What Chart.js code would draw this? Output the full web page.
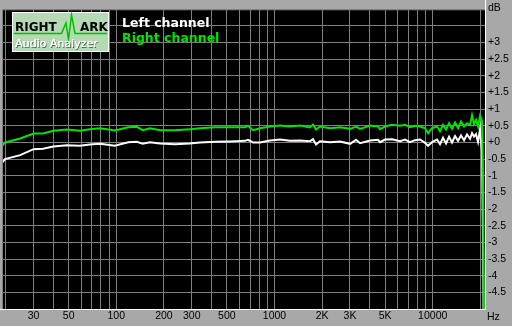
<!DOCTYPE html>
<html>
<head>
<meta charset="utf-8">
<script src="https://cdn.jsdelivr.net/npm/chart.js@4"></script>
<style>
  body { margin: 0; background: #a8a8a8; }
  canvas { display: block; }
</style>
</head>
<body>
<canvas id="fr_chart" width="512" height="326"></canvas>
<script>
// frequency (Hz) of each measured point
const freqs = [19, 19.8, 24.7, 30, 34.4, 40, 48.8, 59, 68, 79, 98, 119, 135, 147, 163, 189, 235, 292, 338, 421,
  523, 651, 680, 731, 810, 937, 1083, 1253, 1450, 1677, 1751, 1830, 1939, 2243, 2594, 3001, 3275, 3472, 4016, 4510,
  4645, 4995, 5531, 6215, 6681, 7187, 7727, 8312, 8940, 9339, 9900, 10646, 11120, 11618, 12140, 12680, 13243, 13840, 14454, 15100,
  15775, 16478, 17213, 17720, 18245, 18782, 19340, 19907, 20495, 20796, 21100];

const leftChannel = [-0.60, -0.50, -0.38, -0.20, -0.19, -0.12, -0.08, -0.10, -0.06, -0.04, -0.10, 0.01, 0.02, -0.04, 0.01, -0.03, -0.05, -0.03, 0.00, 0.02,
  0.03, 0.05, 0.08, 0.00, 0.00, 0.06, 0.09, 0.05, 0.06, 0.04, 0.10, -0.06, 0.04, 0.01, 0.03, -0.04, 0.08, -0.02, 0.06, 0.08,
  0.01, 0.09, 0.10, 0.04, 0.09, 0.01, 0.07, 0.09, -0.01, -0.10, 0.01, 0.09, -0.05, 0.14, -0.03, 0.17, 0.00, 0.19, 0.05, 0.21,
  0.07, 0.24, 0.11, 0.28, 0.18, 0.25, 0.02, 0.40, -0.30, -3.0, -7.0];

const rightChannel = [-0.10, 0.00, 0.12, 0.27, 0.27, 0.35, 0.39, 0.35, 0.40, 0.43, 0.36, 0.46, 0.47, 0.37, 0.43, 0.37, 0.37, 0.40, 0.43, 0.46,
  0.46, 0.46, 0.50, 0.37, 0.43, 0.48, 0.51, 0.48, 0.51, 0.45, 0.54, 0.39, 0.48, 0.43, 0.46, 0.41, 0.48, 0.41, 0.51, 0.48,
  0.40, 0.48, 0.53, 0.50, 0.53, 0.46, 0.50, 0.48, 0.43, 0.28, 0.43, 0.48, 0.34, 0.53, 0.39, 0.58, 0.41, 0.60, 0.43, 0.63,
  0.48, 0.58, 0.53, 0.82, 0.55, 0.68, 0.48, 0.80, 0.65, -1.0, -7.0];

// grid lines on the frequency axis and the ones that get a label
const freqGrid = [20, 30, 40, 50, 60, 70, 80, 90, 100, 200, 300, 400, 500, 600, 700, 800, 900,
  1000, 2000, 3000, 4000, 5000, 6000, 7000, 8000, 9000, 10000, 20000];
const freqLabels = {30: '30', 50: '50', 100: '100', 200: '200', 300: '300', 500: '500',
  1000: '1000', 2000: '2K', 3000: '3K', 5000: '5K', 10000: '10000'};

const GREEN = '#00e400';
const GRID = '#7f7f7f';

function pts(vals) {
  return freqs.map((f, i) => ({x: f, y: vals[i]}));
}

const rmaaLook = {
  id: 'rmaaLook',
  beforeDraw(c) {
    const ctx = c.ctx, a = c.chartArea;
    ctx.save();
    ctx.fillStyle = '#a8a8a8';
    ctx.fillRect(0, 0, c.width, c.height);
    ctx.fillStyle = '#000';
    ctx.fillRect(a.left, a.top, a.right - a.left, a.bottom - a.top);
    ctx.restore();
  },
  afterDraw(c) {
    const ctx = c.ctx, a = c.chartArea;
    ctx.save();
    // frame: dark on top/left, white on right/bottom
    ctx.lineWidth = 1;
    ctx.strokeStyle = GRID;
    ctx.beginPath();
    ctx.moveTo(a.left + 0.5, a.bottom); ctx.lineTo(a.left + 0.5, a.top + 0.5); ctx.lineTo(a.right, a.top + 0.5);
    ctx.stroke();
    ctx.strokeStyle = '#ffffff';
    ctx.beginPath();
    ctx.moveTo(0, a.bottom + 0.5); ctx.lineTo(a.right + 0.5, a.bottom + 0.5); ctx.lineTo(a.right + 0.5, 0);
    ctx.stroke();

    // logo
    ctx.fillStyle = '#b4d9b4';
    ctx.fillRect(12, 12, 97, 40);
    ctx.strokeStyle = '#ffffff';
    ctx.strokeRect(12.5, 12.5, 96, 39);
    ctx.strokeStyle = '#00c000';
    ctx.lineWidth = 1.5;
    ctx.beginPath();
    ctx.moveTo(14, 33.5); ctx.lineTo(61.5, 33.5); ctx.lineTo(66, 23); ctx.lineTo(68.5, 39.5);
    ctx.lineTo(71.5, 15); ctx.lineTo(75, 33.5); ctx.lineTo(107, 33.5);
    ctx.stroke();
    ctx.fillStyle = '#000';
    ctx.font = 'bold 12px "DejaVu Sans"';
    ctx.textBaseline = 'alphabetic';
    ctx.textAlign = 'left';
    ctx.fillText('RIGHT', 15, 31);
    ctx.fillText('ARK', 80, 31);
    ctx.font = '11px "DejaVu Sans"';
    ctx.fillStyle = '#3e5e3e';
    ctx.fillText('Audio Analyzer', 16, 48);
    ctx.fillStyle = '#ffffff';
    ctx.fillText('Audio Analyzer', 15, 47);
    ctx.fillText('Audio Analyzer', 15.3, 47);

    // channel names
    ctx.font = 'bold 12.5px "DejaVu Sans"';
    ctx.fillStyle = '#ffffff';
    ctx.fillText('Left channel', 122, 27);
    ctx.fillStyle = GREEN;
    ctx.fillText('Right channel', 122, 42);

    // unit captions
    ctx.font = '10.5px "Liberation Sans"';
    ctx.fillStyle = '#000';
    ctx.textBaseline = 'middle';
    ctx.fillText('dB', 488, 8);
    ctx.fillText('Hz', 487, 317);
    ctx.restore();
  }
};

const ctx = document.getElementById('fr_chart').getContext('2d');
const chart = new Chart(ctx, {
  type: 'line',
  data: {
    datasets: [{
      label: 'Left channel',
      data: pts(leftChannel),
      borderColor: '#ffffff',
      borderWidth: 2,
      pointRadius: 0,
      tension: 0,
      order: 2
    }, {
      label: 'Right channel',
      data: pts(rightChannel),
      borderColor: GREEN,
      borderWidth: 2,
      pointRadius: 0,
      tension: 0,
      order: 1
    }]
  },
  options: {
    responsive: false,
    animation: false,
    layout: {padding: {left: 2, top: 2, right: 0, bottom: 0}},
    plugins: {legend: {display: false}, tooltip: {enabled: false}},
    scales: {
      x: {
        type: 'logarithmic',
        min: 18.95,
        max: 21400,
        afterBuildTicks: (scale) => { scale.ticks = freqGrid.map(v => ({value: v})); },
        afterFit: (scale) => { scale.height = 17; },
        grid: {color: GRID, drawTicks: false},
        border: {display: false},
        ticks: {
          autoSkip: false,
          maxRotation: 0,
          padding: 1,
          color: '#000',
          font: {family: 'Liberation Sans', size: 10.5},
          callback: (v) => freqLabels[v] || ''
        }
      },
      y: {
        position: 'right',
        min: -5,
        max: 4,
        afterFit: (scale) => { scale.width = 27; },
        grid: {color: GRID, drawTicks: false},
        border: {display: false},
        ticks: {
          stepSize: 0.5,
          padding: 3,
          color: '#000',
          font: {family: 'Liberation Sans', size: 10.5},
          callback: (v) => {
            if (v >= 3.5 || v <= -5) return '';
            return (v >= 0 ? '+' : '') + v;
          }
        }
      }
    }
  },
  plugins: [rmaaLook]
});
</script>
</body>
</html>
